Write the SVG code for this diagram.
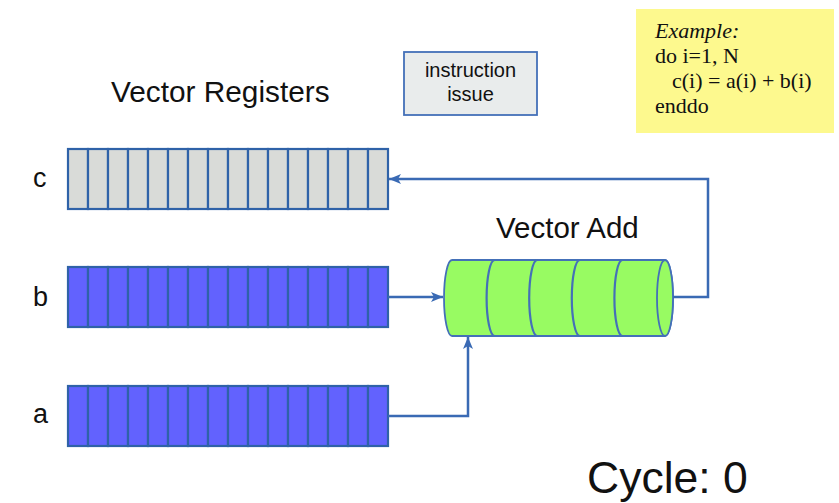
<svg xmlns="http://www.w3.org/2000/svg" xmlns:xlink="http://www.w3.org/1999/xlink" width="839" height="503" viewBox="0 0 839 503">
<style>
.lbl{font-family:"Liberation Sans",Arial,sans-serif;fill:#111;}
.ser{font-family:"Liberation Serif","Times New Roman",serif;fill:#111;font-size:22px;}
.conn{fill:none;stroke:#3a6ab4;stroke-width:2.5;}
.cyl{fill:#98fb62;stroke:#4470b8;stroke-width:1.8;}
.div{fill:none;stroke:#4470b8;stroke-width:2.2;}
</style>
<defs>
<marker id="ah" markerWidth="12" markerHeight="10" refX="12" refY="5" orient="auto" markerUnits="userSpaceOnUse">
<path d="M0,0 L12,5 L0,10 L3,5 Z" fill="#3a6ab4"/>
</marker>
<g id="cells" stroke="#2f62a8" stroke-width="2.2">
<rect x="0" y="0" width="20" height="60"/><rect x="20" y="0" width="20" height="60"/><rect x="40" y="0" width="20" height="60"/><rect x="60" y="0" width="20" height="60"/>
<rect x="80" y="0" width="20" height="60"/><rect x="100" y="0" width="20" height="60"/><rect x="120" y="0" width="20" height="60"/><rect x="140" y="0" width="20" height="60"/>
<rect x="160" y="0" width="20" height="60"/><rect x="180" y="0" width="20" height="60"/><rect x="200" y="0" width="20" height="60"/><rect x="220" y="0" width="20" height="60"/>
<rect x="240" y="0" width="20" height="60"/><rect x="260" y="0" width="20" height="60"/><rect x="280" y="0" width="20" height="60"/><rect x="300" y="0" width="20" height="60"/>
</g>
</defs>
<rect width="839" height="503" fill="#ffffff"/>

<g id="example">
<rect x="636" y="9" width="198" height="124" fill="#fdf98e"/>
<text class="ser" x="655" y="38" font-style="italic">Example:</text>
<text class="ser" x="655" y="63">do i=1, N</text>
<text class="ser" x="672" y="88">c(i) = a(i) + b(i)</text>
<text class="ser" x="655" y="113">enddo</text>
</g>

<g id="issue">
<rect x="404" y="52" width="133" height="63" fill="#e9ecec" stroke="#4470b8" stroke-width="1.8"/>
<text class="lbl" x="470.5" y="77" font-size="20" text-anchor="middle">instruction</text>
<text class="lbl" x="470.5" y="101" font-size="20" text-anchor="middle">issue</text>
</g>

<g id="title">
<text class="lbl" x="111" y="101.5" font-size="29.8">Vector Registers</text>
</g>

<g id="reg-c">
<text class="lbl" x="33" y="187" font-size="27">c</text>
<use xlink:href="#cells" x="68" y="149" fill="#d9dbd8"/>
</g>
<g id="reg-b">
<text class="lbl" x="33" y="306" font-size="27">b</text>
<use xlink:href="#cells" x="68" y="267" fill="#6262fe"/>
</g>
<g id="reg-a">
<text class="lbl" x="33" y="423" font-size="27">a</text>
<use xlink:href="#cells" x="68" y="386" fill="#6262fe"/>
</g>

<g id="vector-add">
<text class="lbl" x="496" y="238" font-size="29.5">Vector Add</text>
<path class="cyl" d="M452,260 L665,260 A8,38 0 0 1 665,336 L452,336 A8,38 0 0 1 452,260 Z"/>
<path class="div" d="M494.6,260 A8,38 0 0 0 494.6,336"/>
<path class="div" d="M537.2,260 A8,38 0 0 0 537.2,336"/>
<path class="div" d="M579.8,260 A8,38 0 0 0 579.8,336"/>
<path class="div" d="M622.4,260 A8,38 0 0 0 622.4,336"/>
<ellipse class="cyl" cx="665" cy="298" rx="8" ry="38"/>
</g>

<g id="connectors">
<path class="conn" d="M388,297 L443,297" marker-end="url(#ah)"/>
<path class="conn" d="M388,416 L468,416 L468,337" marker-end="url(#ah)"/>
<path class="conn" d="M673,297 L708,297 L708,179 L389,179" marker-end="url(#ah)"/>
</g>

<g id="cycle">
<text class="lbl" x="587" y="493" font-size="44.5">Cycle: 0</text>
</g>
</svg>
